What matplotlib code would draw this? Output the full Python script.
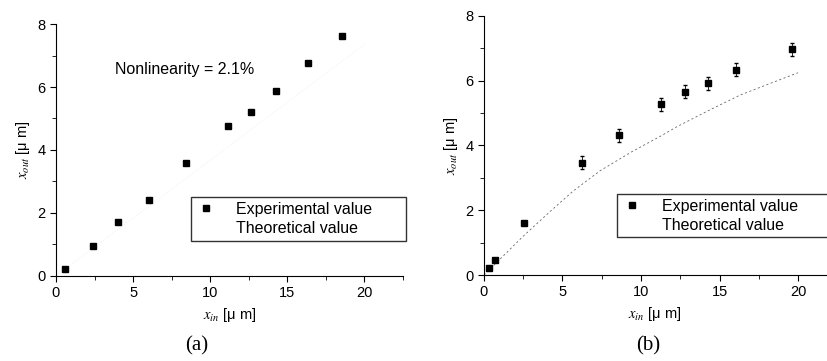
import numpy as np
import matplotlib.pyplot as plt
from matplotlib.ticker import MultipleLocator
from matplotlib.lines import Line2D

plt.rcParams['font.family'] = ['Liberation Sans', 'DejaVu Sans']
plt.rcParams['mathtext.fontset'] = 'stix'

# (a) measured points
xa_in = [0.58, 2.42, 4.05, 6.04, 8.46, 11.17, 12.68, 14.29, 16.36, 18.53]
xa_out = [0.21, 0.96, 1.72, 2.41, 3.60, 4.77, 5.22, 5.88, 6.75, 7.62]
xa_err = [0.06, 0.06, 0.1, 0.06, 0.08, 0.1, 0.08, 0.06, 0.08, 0.1]
# (a) theoretical (barely visible in print)
ta_in = [0.0, 20.1]
ta_out = [0.0, 7.39]

# (b) measured points
xb_in = [0.32, 0.68, 2.55, 6.23, 8.62, 11.26, 12.77, 14.28, 16.06, 19.62]
xb_out = [0.23, 0.48, 1.62, 3.47, 4.31, 5.27, 5.66, 5.92, 6.34, 6.96]
xb_err = [0.05, 0.06, 0.06, 0.2, 0.2, 0.2, 0.2, 0.2, 0.2, 0.2]
# (b) theoretical curve
tb_in = [0.0, 2.5, 4.3, 5.7, 7.4, 9.4, 11.3, 12.3, 14.4, 16.3, 18.7, 20.0]
tb_out = [0.0, 1.2, 2.0, 2.6, 3.22, 3.8, 4.3, 4.58, 5.1, 5.55, 6.0, 6.24]

fig = plt.figure(figsize=(8.28, 3.61), dpi=100)
ax1 = fig.add_axes([0.0676, 0.2355, 0.419, 0.698])
ax2 = fig.add_axes([0.5845, 0.238, 0.4135, 0.7185])


def style(ax, xmax):
    ax.set_xlim(0, xmax)
    ax.set_ylim(0, 8)
    ax.spines['top'].set_visible(False)
    ax.spines['right'].set_visible(False)
    ax.xaxis.set_major_locator(MultipleLocator(5))
    ax.xaxis.set_minor_locator(MultipleLocator(2.5))
    ax.yaxis.set_major_locator(MultipleLocator(2))
    ax.yaxis.set_minor_locator(MultipleLocator(1))
    ax.tick_params(which='both', direction='out', labelsize=10.5)
    ax.tick_params(which='major', length=4)
    ax.tick_params(which='minor', length=3)
    ax.set_xlabel(r'$x_{in}$ [μ m]', fontsize=10.5)
    ax.set_ylabel(r'$x_{out}$ [μ m]', fontsize=10.5)


def legend(ax, anchor):
    handles = [Line2D([], [], marker='s', color='black', ms=5, ls='none'),
               Line2D([], [], ls='none')]
    ax.legend(handles, ['Experimental value', 'Theoretical value'],
              loc='center left', bbox_to_anchor=anchor, mode='expand',
              fontsize=11.5, frameon=True, fancybox=False, edgecolor='black',
              handlelength=1.2, handletextpad=1.3, borderaxespad=0,
              labelspacing=0.25, borderpad=0.3)


ax1.plot(ta_in, ta_out, ':', color='#f2f2f2', lw=0.8)
ax1.errorbar(xa_in, xa_out, yerr=xa_err, fmt='s', color='black', ms=5,
             elinewidth=0.6, capsize=0)
style(ax1, 22.5)
ax1.text(3.83, 6.57, 'Nonlinearity = 2.1%', fontsize=11.5, va='center', ha='left')
legend(ax1, (0.39, 0.135, 0.62, 0.182))

ax2.plot(tb_in, tb_out, linestyle=(0, (2.5, 3)), color='#666666', lw=0.6)
ax2.errorbar(xb_in, xb_out, yerr=xb_err, fmt='s', color='black', ms=5,
             elinewidth=0.6, capsize=1.5)
style(ax2, 21.8)
legend(ax2, (0.39, 0.139, 0.62, 0.181))

fig.text(0.238, 0.042, '(a)', fontsize=15, family='Liberation Serif', ha='center', va='center')
fig.text(0.783, 0.042, '(b)', fontsize=15, family='Liberation Serif', ha='center', va='center')

fig.savefig('out.png', dpi=100)
